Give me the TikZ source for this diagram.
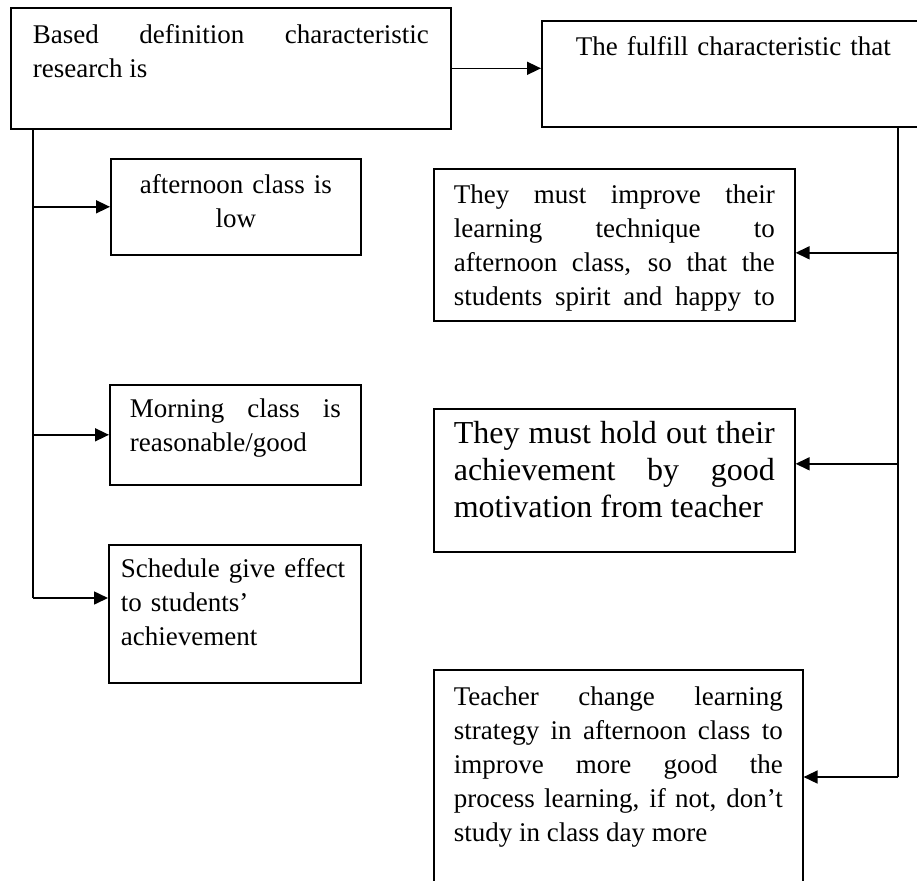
\documentclass[tikz,border=0pt]{standalone}
\usepackage{fontspec}
\setmainfont{Liberation Serif}
\usetikzlibrary{arrows.meta}
\tolerance=10000
\hbadness=10000
\hyphenpenalty=10000

\tikzset{
  box/.style={draw, line width=0.8pt, anchor=north west, inner xsep=10pt, inner ysep=0pt,
    font=\fontsize{13.5pt}{17pt}\selectfont, align=justify},
  arr/.style={line width=0.8pt, -{Triangle[length=7pt,width=6.5pt]}},
  trunk/.style={line width=0.8pt}
}

\begin{document}
\begin{tikzpicture}[x=0.5pt,y=-0.5pt]
\useasboundingbox (0,0) rectangle (917,880);

\node[box, text width=198pt, inner xsep=11pt, text height=18pt, text depth=42.5pt] (based) at (10,7)
  {Based definition characteristic\break research is};
\node[box, align=center, text width=173.5pt, inner xsep=9pt, text height=17.5pt, text depth=35.5pt] (fulfill) at (541,20)
  {The fulfill characteristic that};

\node[box, align=center, text width=105pt, text height=17.5pt, text depth=30.5pt] (afternoon) at (110,158)
  {afternoon class is\\ low};
\node[box, text width=105.5pt, text height=16.5pt, text depth=33.5pt] (morning) at (109,384)
  {Morning class is\break reasonable/good};
\node[box, align=left, text width=114pt, inner xsep=6pt, text height=16.5pt, text depth=52.5pt] (schedule) at (108,544)
  {\mbox{Schedule give effect}\\ to students’\\ achievement};

\node[box, text width=160.5pt, text height=17.5pt, text depth=58.5pt] (improve) at (433,168)
  {They must improve their\break learning technique to\break afternoon class, so that the\break students spirit and happy to\parfillskip=0pt\par};
\node[box, font=\fontsize{16pt}{18.5pt}\selectfont, text width=160.5pt, text height=17.5pt, text depth=54pt] (holdout) at (433,408)
  {They must hold out their\break achievement by good\break motivation from teacher};
\node[box, text width=164.5pt, text height=18pt, text depth=97.5pt] (teacher) at (433,669)
  {Teacher change learning\break strategy in afternoon class to\break improve more good the\break process learning, if not, don’t\break study in class day more};

\coordinate (lend) at (33,598);
\coordinate (rend) at (898,777);
\coordinate (imp) at ([yshift=-4pt]improve.east);
\coordinate (hold) at ([yshift=8.25pt]holdout.east);

\draw[arr] (based.east) -- (based.east -| fulfill.west);

\draw[trunk] (based.south -| lend) -- (lend);
\draw[arr] (afternoon.west -| lend) -- (afternoon.west);
\draw[arr] (morning.west -| lend) -- (morning.west);
\draw[arr] (lend) -- (lend -| schedule.west);

\draw[trunk] (fulfill.south -| rend) -- (rend);
\draw[arr] (imp -| rend) -- (imp);
\draw[arr] (hold -| rend) -- (hold);
\draw[arr] (rend) -- (rend -| teacher.east);
\end{tikzpicture}
\end{document}
